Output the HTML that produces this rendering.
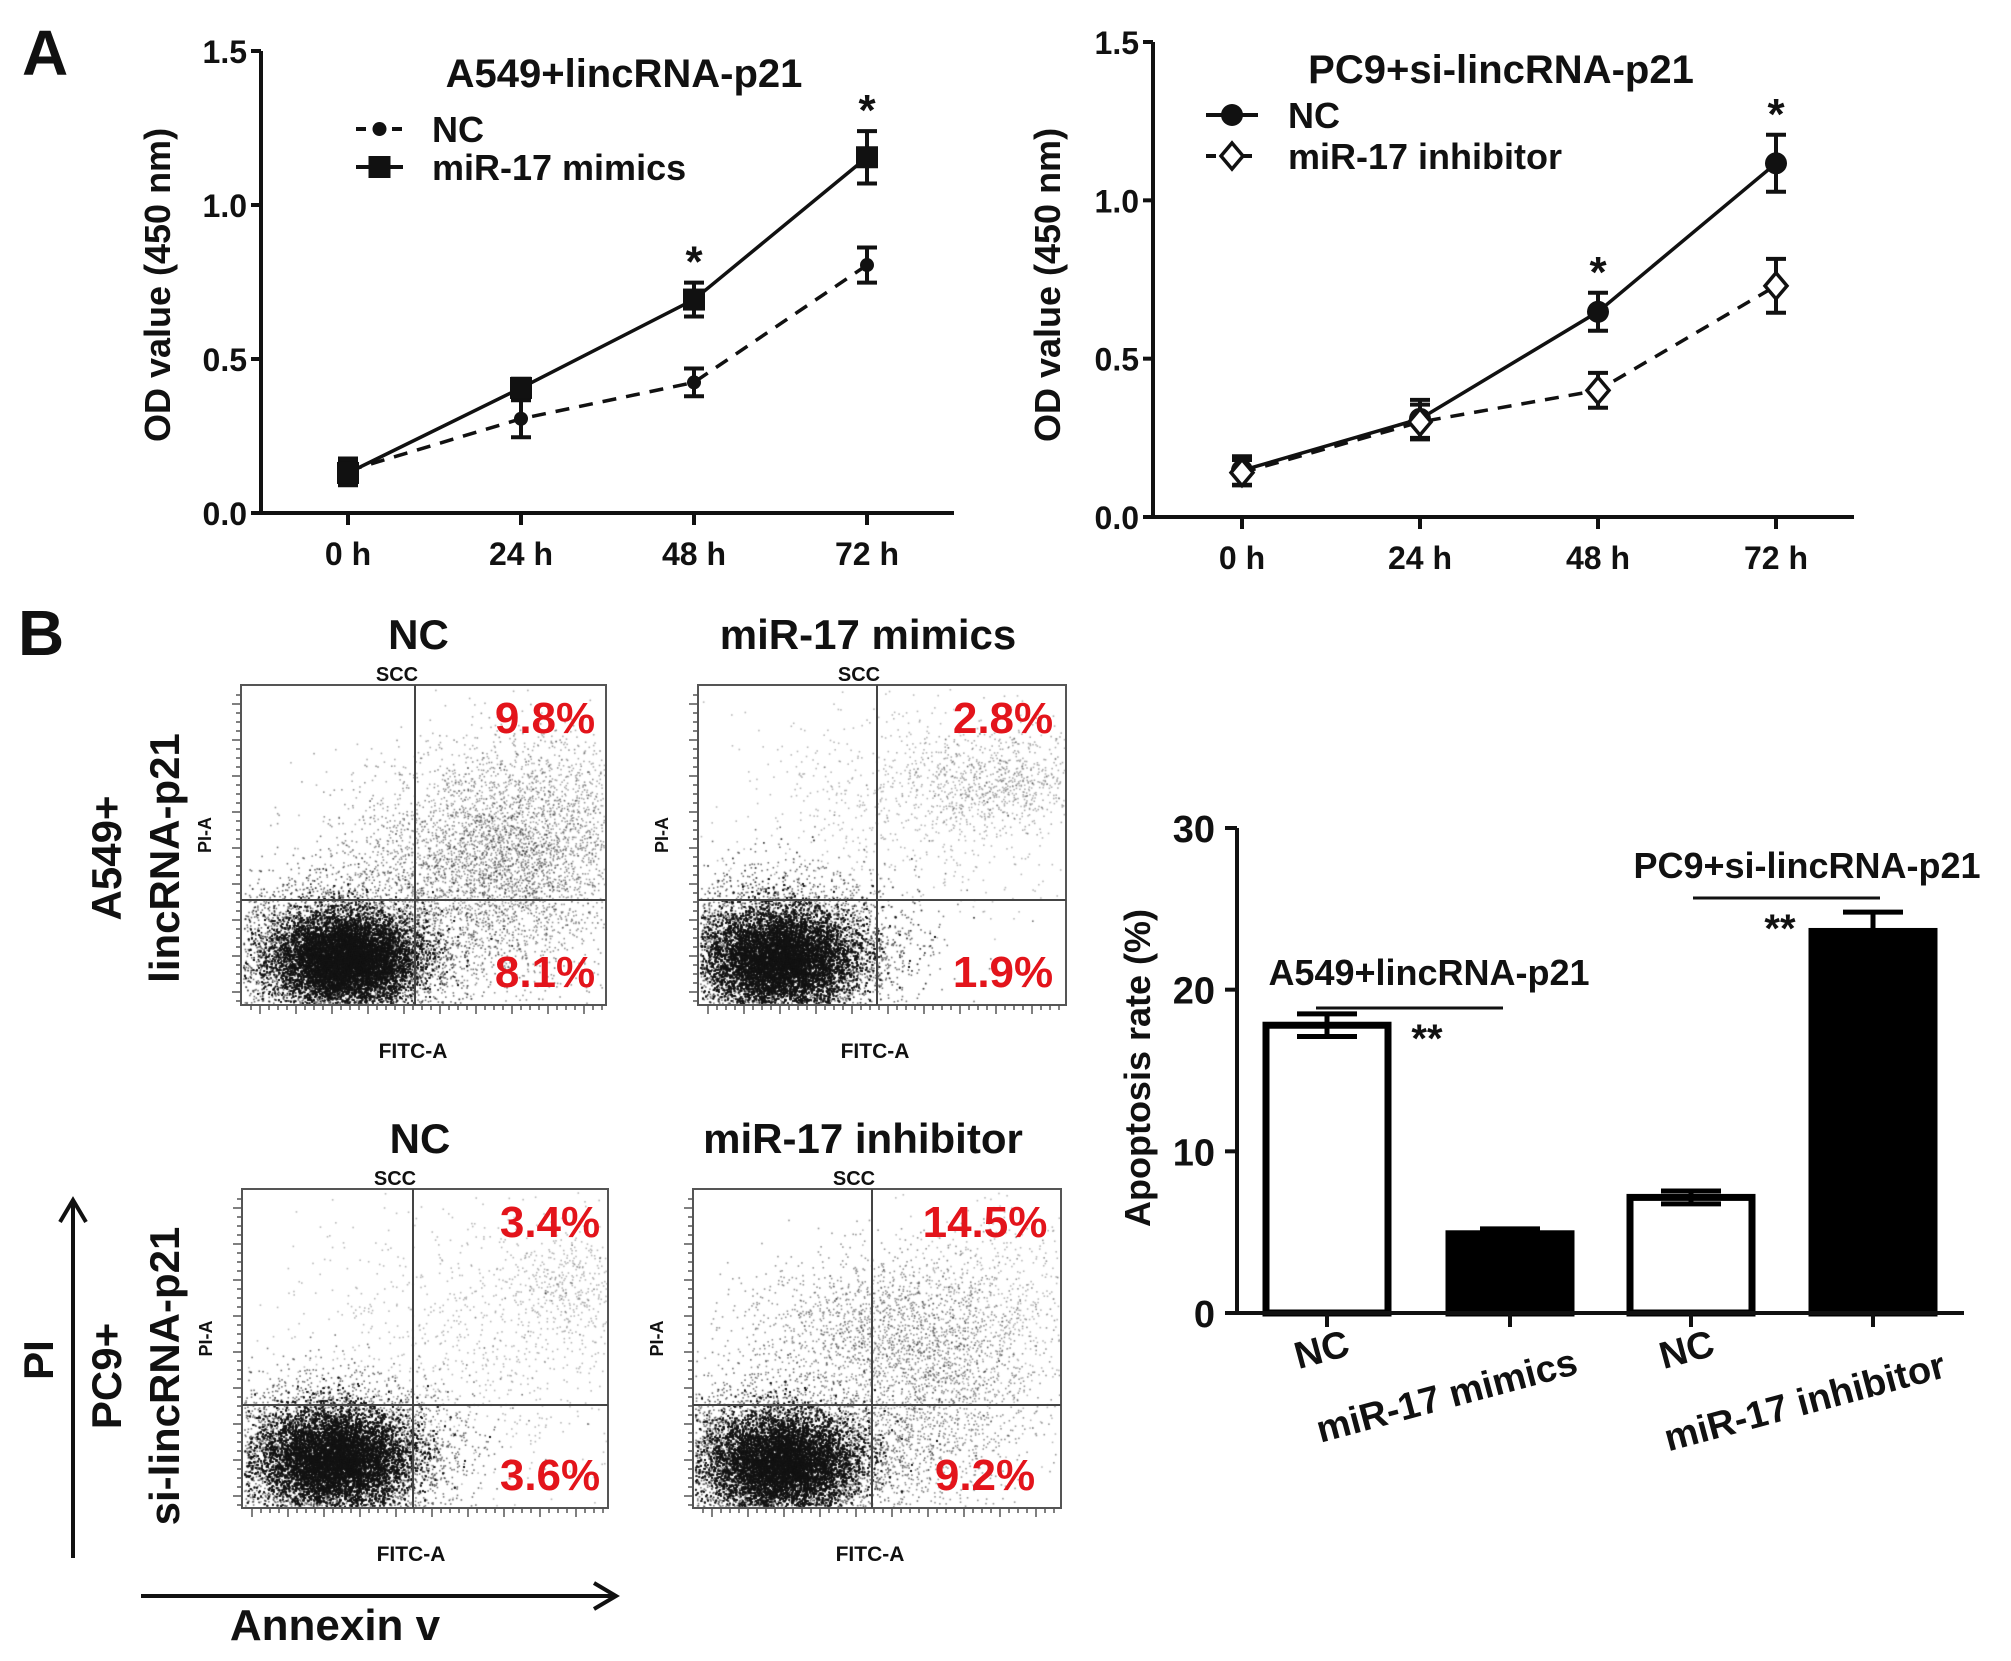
<!DOCTYPE html>
<html><head><meta charset="utf-8">
<style>
html,body{margin:0;padding:0;background:#fff;}
#wrap{position:relative;width:2011px;height:1661px;overflow:hidden;}
canvas,svg{position:absolute;left:0;top:0;}
text{font-family:"Liberation Sans",Arial,sans-serif;font-weight:bold;fill:#111;}
</style></head>
<body>
<div id="wrap">
<canvas id="dots" width="2011" height="1661"></canvas>
<svg id="fig" width="2011" height="1661" xmlns="http://www.w3.org/2000/svg">
  <text x="22" y="75" font-size="64">A</text>
  <text x="18" y="655" font-size="64">B</text>
</svg>
</div>
<script>
// ---------- data ----------
const timeLabels = ["0 h","24 h","48 h","72 h"];
const odTicks = [0.0,0.5,1.0,1.5];
const a549NC = [0.137,0.306,0.424,0.805];
const a549NCErr = [0.04,0.06,0.045,0.057];
const a549Mim = [0.13,0.406,0.693,1.155];
const a549MimErr = [0.04,0.03,0.055,0.085];
const pc9NC = [0.147,0.31,0.648,1.117];
const pc9NCErr = [0.045,0.06,0.06,0.09];
const pc9Inh = [0.14,0.30,0.40,0.73];
const pc9InhErr = [0.04,0.055,0.055,0.085];
const barCategories = ["NC","miR-17 mimics","NC","miR-17 inhibitor"];
const barValues = [17.8,4.9,7.15,23.6];
const barErrors = [0.7,0.3,0.4,1.2];
const barFills = ["#fff","#000","#fff","#000"];
const apopTicks = [0,10,20,30];
const flowTopPct = ["9.8%","2.8%","3.4%","14.5%"];
const flowBotPct = ["8.1%","1.9%","3.6%","9.2%"];

const NS="http://www.w3.org/2000/svg";
const svg=document.getElementById('fig');
function el(tag,attrs,parent,txt){
  const e=document.createElementNS(NS,tag);
  for(const k in attrs) e.setAttribute(k,attrs[k]);
  if(txt!==undefined) e.textContent=txt;
  (parent||svg).appendChild(e);
  return e;
}

// ---------- line charts ----------
function lineChart(c){
  const g=el('g',{});
  
  
  const y=v=>c.y0+(c.y1-c.y0)*(v/1.5);
  const x=i=>c.xs[0]+i*(c.xs[1]-c.xs[0]);
  const ax=el('path',{d:`M${c.ax},${y(1.5)} V${c.y0} H${c.axEnd}`,stroke:'#111','stroke-width':4,fill:'none'},g);
  
  
  odTicks.forEach(t=>{
    el('line',{x1:c.ax-10,x2:c.ax,y1:y(t),y2:y(t),stroke:'#111','stroke-width':4},g);
    const tl=el('text',{x:c.ax-14,y:y(t)+12,'font-size':32,'text-anchor':'end'},g,t.toFixed(1));
    
    
  });
  timeLabels.forEach((t,i)=>{
    el('line',{x1:x(i),x2:x(i),y1:c.y0,y2:c.y0+12,stroke:'#111','stroke-width':4},g);
    const tl=el('text',{x:x(i),y:c.y0+52,'font-size':32,'text-anchor':'middle'},g,t);
    
    
  });
  const yl=el('text',{x:0,y:0,'font-size':36,'text-anchor':'middle',transform:`translate(${c.ylx},${c.yly}) rotate(-90)`},g,'OD value (450 nm)');
  
  
  const ti=el('text',{x:c.tx,y:c.ty,'font-size':40,'text-anchor':'middle'},g,c.title);
  
  
  c.series.forEach(s=>{
    const pts=s.v.map((v,i)=>[x(i),y(v)]);
    const ln=el('polyline',{points:pts.map(p=>p.join(',')).join(' '),fill:'none',stroke:'#111','stroke-width':3.5,'stroke-dasharray':s.dash?'14,10':'none'},g);
    
    
    s.v.forEach((v,i)=>{
      const px=x(i),t=y(v+s.e[i]),b=y(v-s.e[i]);
      el('path',{d:`M${px},${t} V${b} M${px-10},${t} H${px+10} M${px-10},${b} H${px+10}`,stroke:'#111','stroke-width':4,fill:'none'},g);
      const m=marker(g,s.m,px,y(v));
      
      
    });
  });
  c.stars.forEach(i=>{
    const topV=Math.max(...c.series.map(s=>s.v[i]+s.e[i]));
    const st=el('text',{x:x(i),y:y(topV)-6,'font-size':44,'text-anchor':'middle'},g,'*');
    
    
  });
  c.legend.forEach(L=>{
    const lg=el('g',{},g);
    
    
    el('line',{x1:L.x1,x2:L.x2,y1:L.y,y2:L.y,stroke:'#111','stroke-width':4,'stroke-dasharray':L.dash?'10,8':'none'},lg);
    marker(lg,L.m,(L.x1+L.x2)/2,L.y);
    el('text',{x:L.tx,y:L.y+13,'font-size':36},lg,L.label);
  });
}
function marker(g,type,x,y){
  if(type==='sq') return el('rect',{x:x-11,y:y-11,width:22,height:22,fill:'#111'},g);
  if(type==='dot') return el('circle',{cx:x,cy:y,r:7,fill:'#111'},g);
  if(type==='circ') return el('circle',{cx:x,cy:y,r:11,fill:'#111'},g);
  return el('path',{d:`M${x},${y-13} L${x+11},${y} L${x},${y+13} L${x-11},${y} Z`,fill:'#fff',stroke:'#111','stroke-width':3.5},g);
}
lineChart({name:'a549-growth-chart',ax:261,axEnd:954,y0:513,y1:51,xs:[348,521],ylx:170,yly:285,
  title:'A549+lincRNA-p21',tx:624,ty:87,stars:[2,3],
  series:[{v:a549NC,e:a549NCErr,dash:true,m:'dot'},{v:a549Mim,e:a549MimErr,dash:false,m:'sq'}],
  legend:[{x1:356,x2:403,y:129,dash:true,m:'dot',tx:432,label:'NC'},{x1:356,x2:403,y:167,dash:false,m:'sq',tx:432,label:'miR-17 mimics'}]});
lineChart({name:'pc9-growth-chart',ax:1153,axEnd:1854,y0:517,y1:42,xs:[1242,1420],ylx:1060,yly:285,
  title:'PC9+si-lincRNA-p21',tx:1501,ty:83,stars:[2,3],
  series:[{v:pc9NC,e:pc9NCErr,dash:false,m:'circ'},{v:pc9Inh,e:pc9InhErr,dash:true,m:'dia'}],
  legend:[{x1:1206,x2:1258,y:115,dash:false,m:'circ',tx:1288,label:'NC'},{x1:1206,x2:1258,y:156,dash:true,m:'dia',tx:1288,label:'miR-17 inhibitor'}]});

// ---------- bar chart ----------
(function(){
  const g=el('g',{});
  
  
  const ax=1237,y0=1313,yTop=828,axEnd=1964;
  const y=v=>y0-(y0-yTop)*v/30;
  const centers=[1327,1510,1691,1873],bw=122;
  barValues.forEach((v,i)=>{
    const b=el('rect',{x:centers[i]-bw/2,y:y(v),width:bw,height:y0-y(v),fill:barFills[i],stroke:'#000','stroke-width':7},g);
    
    
    const t=y(v+barErrors[i]),bo=y(v-barErrors[i]);
    el('path',{d:`M${centers[i]},${t} V${bo} M${centers[i]-30},${t} H${centers[i]+30} M${centers[i]-30},${bo} H${centers[i]+30}`,stroke:'#000','stroke-width':5},g);
    el('line',{x1:centers[i],x2:centers[i],y1:y0,y2:y0+14,stroke:'#111','stroke-width':4},g);
  });
  el('path',{d:`M${ax},${yTop} V${y0} H${axEnd}`,stroke:'#111','stroke-width':4,fill:'none'},g);
  apopTicks.forEach(t=>{
    el('line',{x1:ax-12,x2:ax,y1:y(t),y2:y(t),stroke:'#111','stroke-width':4},g);
    const tl=el('text',{x:ax-22,y:y(t)+14,'font-size':38,'text-anchor':'end'},g,String(t));
    
    
  });
  const lblPos=[[1325,1362],[1450,1408],[1690,1362],[1808,1414]];
  barCategories.forEach((c,i)=>{
    const t=el('text',{x:0,y:0,'font-size':38,'text-anchor':'middle',transform:`translate(${lblPos[i][0]},${lblPos[i][1]}) rotate(-15)`},g,c);
    
    
  });
  const yl=el('text',{x:0,y:0,'font-size':36,'text-anchor':'middle',transform:'translate(1150,1068) rotate(-90)'},g,'Apoptosis rate (%)');
  
  
  const a1=el('text',{x:1429,y:985,'font-size':36,'text-anchor':'middle'},g,'A549+lincRNA-p21');
  
  
  el('line',{x1:1316,x2:1503,y1:1008,y2:1008,stroke:'#111','stroke-width':3},g);
  el('text',{x:1427,y:1052,'font-size':40,'text-anchor':'middle'},g,'**');
  const a2=el('text',{x:1807,y:878,'font-size':36,'text-anchor':'middle'},g,'PC9+si-lincRNA-p21');
  
  
  el('line',{x1:1693,x2:1880,y1:898,y2:898,stroke:'#111','stroke-width':3},g);
  el('text',{x:1780,y:942,'font-size':40,'text-anchor':'middle'},g,'**');
})();

// ---------- flow plots ----------
const boxes=[
 {x0:241,x1:606,y0:685,y1:1005,vx:415,hy:900,title:'NC',px:545},
 {x0:698,x1:1066,y0:685,y1:1005,vx:877,hy:900,title:'miR-17 mimics',px:1003},
 {x0:242,x1:608,y0:1189,y1:1508,vx:413,hy:1405,title:'NC',px:550},
 {x0:693,x1:1061,y0:1189,y1:1508,vx:872,hy:1405,title:'miR-17 inhibitor',px:985}
];
const ctx=document.getElementById('dots').getContext('2d');
let seed=12345;
function rnd(){seed=(seed*1103515245+12345)%2147483648;return seed/2147483648;}
function gauss(){let u=rnd()||1e-6,v=rnd();return Math.sqrt(-2*Math.log(u))*Math.cos(2*Math.PI*v);}
function cloud(cx,cy,sx,sy,n,alpha,b){
  ctx.fillStyle=`rgba(20,20,20,${alpha})`;
  for(let i=0;i<n;i++){
    const x=cx+gauss()*sx,y=cy+gauss()*sy;
    if(x>b.x0+2&&x<b.x1-2&&y>b.y0+2&&y<b.y1-2) ctx.fillRect(x,y,1.6,1.6);
  }
}
const clouds=[
 [[345,958,34,22,22000,1],[340,955,60,36,6000,0.6],[470,860,70,40,1800,0.45],[520,880,50,60,1500,0.45],[540,800,80,40,1200,0.35]],
 [[780,958,36,24,22000,1],[775,955,60,38,6000,0.6],[920,800,90,50,800,0.3],[1000,780,50,25,700,0.35]],
 [[335,1458,36,24,22000,1],[330,1456,60,36,5000,0.6],[470,1340,100,70,900,0.3],[570,1290,30,30,400,0.3]],
 [[782,1462,36,24,20000,1],[775,1460,60,36,5000,0.6],[880,1330,70,40,1600,0.45],[930,1410,50,60,1300,0.45],[1000,1300,50,60,600,0.3]]
];
boxes.forEach((b,k)=>{
  clouds[k].forEach(c=>cloud(c[0],c[1],c[2],c[3],c[4],c[5],b));
  const g=el('g',{});
  
  
  el('rect',{x:b.x0,y:b.y0,width:b.x1-b.x0,height:b.y1-b.y0,fill:'none',stroke:'#555','stroke-width':2},g);
  el('line',{x1:b.vx,x2:b.vx,y1:b.y0,y2:b.y1,stroke:'#444','stroke-width':2},g);
  el('line',{x1:b.x0,x2:b.x1,y1:b.hy,y2:b.hy,stroke:'#444','stroke-width':2},g);
  for(let t=b.x0+10;t<b.x1;t+=9) el('line',{x1:t,x2:t,y1:b.y1,y2:b.y1+(t%4?5:9),stroke:'#555','stroke-width':1.5},g);
  for(let t=b.y0+10;t<b.y1;t+=9) el('line',{x1:b.x0-(t%4?5:9),x2:b.x0,y1:t,y2:t,stroke:'#555','stroke-width':1.5},g);
  const ti=el('text',{x:(b.x0+b.x1)/2+(k==1||k==3?-14:-5),y:b.y0-36,'font-size':42,'text-anchor':'middle'},g,b.title);
  
  
  el('text',{x:b.vx-18,y:b.y0-4,'font-size':20,'text-anchor':'middle'},g,'SCC');
  el('text',{x:b.vx-2,y:b.y1+53,'font-size':21,'text-anchor':'middle'},g,'FITC-A');
  el('text',{x:0,y:0,'font-size':18,'text-anchor':'middle',transform:`translate(${b.x0-30},${(b.y0+b.y1)/2-10}) rotate(-90)`},g,'PI-A');
  const p1=el('text',{x:b.px,y:b.y0+48,'font-size':44,'text-anchor':'middle',style:'fill:#e3141b'},g,flowTopPct[k]);
  
  
  const p2=el('text',{x:b.px,y:b.y1-18,'font-size':44,'text-anchor':'middle',style:'fill:#e3141b'},g,flowBotPct[k]);
  
  
});
// row labels & arrows
[['A549+',106,858],['lincRNA-p21',164,858],['PC9+',106,1376],['si-lincRNA-p21',164,1376],['PI',38,1360]].forEach(r=>{
  const t=el('text',{x:0,y:15,'font-size':42,'text-anchor':'middle',transform:`translate(${r[1]},${r[2]}) rotate(-90)`},svg,r[0]);
  
  
});
const va=el('path',{d:'M73,1558 V1201 M60,1222 L73,1200 L86,1222',stroke:'#111','stroke-width':4,fill:'none'});


const ha=el('path',{d:'M141,1596 H615 M594,1583 L616,1596 L594,1609',stroke:'#111','stroke-width':4,fill:'none'});


const an=el('text',{x:335,y:1640,'font-size':44,'text-anchor':'middle'},svg,'Annexin v');


</script>
</body></html>
